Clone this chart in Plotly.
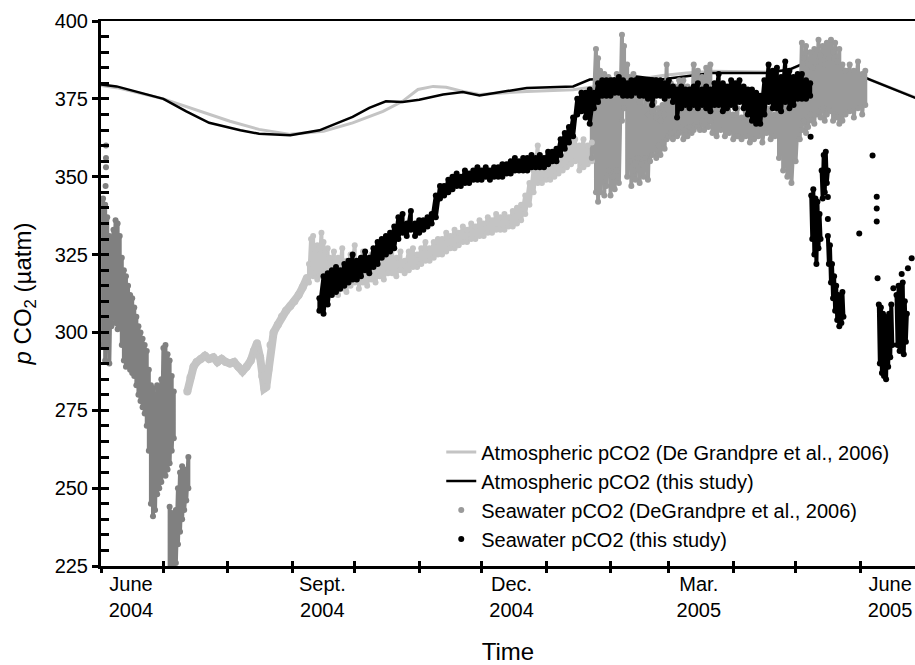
import pandas as pd
import plotly.graph_objects as go

START = pd.Timestamp("2004-06-01")
X_END_DAY = 391.4

# ---------------- atmospheric pCO2 (days since 1 June 2004) ----------------
atm_dg_days = [0, 7.5, 30, 42.8, 62, 76, 91, 107, 121, 135.6, 145, 152.4, 159.7, 166,
               174, 182, 204.7, 227, 238, 260, 270, 281.6, 294, 320, 331, 341, 358.5, 369.7, 392]
atm_dg_vals = [379.3, 378.6, 375.0, 372.1, 367.8, 365.2, 363.6, 364.6, 367.3, 371.0, 374.2,
               378.0, 379.0, 378.7, 377.4, 376.4, 377.4, 377.9, 379.0, 381.5, 382.5, 383.3,
               383.9, 383.6, 384.4, 387.0, 384.4, 381.2, 375.3]

atm_this_days = [0, 7.5, 30, 41, 52, 67, 76, 91, 105, 121, 129, 137, 145, 153, 164.5, 174,
                 182, 204.7, 227, 235, 249.5, 257.5, 269, 294, 320, 331, 341, 358.5, 369.7, 392]
atm_this_vals = [379.6, 379.0, 375.0, 371.0, 367.3, 364.9, 363.8, 363.3, 364.9, 369.2, 372.1,
                 374.2, 374.0, 374.7, 376.4, 377.2, 376.1, 378.5, 379.0, 381.2, 381.7, 382.2,
                 381.2, 383.3, 383.3, 384.4, 387.3, 384.4, 381.2, 375.2]

# ---------------- seawater pCO2, DeGrandpre et al. (2006) ----------------
# June 2004: daily upper / lower envelope of the record
dg_jun_days = [1, 2, 3, 4, 5, 6, 7, 8, 9, 10, 11, 12, 13, 14, 15, 16, 17, 18, 19, 20,
               21, 22, 23, 24, 25, 26, 27, 28, 29, 30, 31, 32, 33, 34, 35]
dg_jun_upper = [343, 341, 337, 331, 328, 333, 336, 335, 331, 324, 320, 318, 315, 312, 311, 308,
                305, 302, 300, 298, 296, 294, 288, 283, 282, 280, 283, 282, 285, 295, 296, 293,
                291, 286, 281]
dg_jun_lower = [296, 291, 300, 290, 302, 305, 303, 301, 302, 296, 291, 289, 290, 288, 287, 286,
                283, 280, 278, 276, 274, 270, 262, 245, 241, 243, 248, 250, 252, 255, 254, 256,
                258, 262, 266]
# early July 2004 low-pCO2 episode
dg_jul_days = [33, 34, 35, 36, 37, 38, 39, 40, 41, 42]
dg_jul_upper = [244, 242, 240, 243, 250, 255, 257, 256, 252, 260]
dg_jul_lower = [224, 224, 224, 226, 232, 236, 240, 243, 246, 250]
# isolated high readings at the start of the record
dg_start_days = [2.4, 2.4, 2.4, 2.2]
dg_start_vals = [360, 356, 353, 347]

# July - Sept. 2004: smooth part of the record
dg_summer_days = [41.5, 43, 44.5, 46, 48, 50, 52, 54, 56, 58, 60, 62, 64, 66, 68, 70, 72, 73.5,
                  75, 76.5, 77.5, 78.5, 79.5, 80.5, 81.5, 83, 85, 87, 89, 91, 93, 95, 97, 99]
dg_summer_vals = [281, 285.5, 289, 290.5, 291.5, 292.5, 291.5, 292, 290.5, 291.5, 290.5, 290,
                  290.5, 289, 287.5, 289, 291, 294, 296.5, 292, 286, 282, 282.5, 288, 296, 300,
                  302.5, 305, 307, 308.5, 310, 312, 314.5, 317.5]

# Sept. 2004 - Jan. 2005
dg_fall_days = [100, 101, 102, 103, 104, 105, 106, 107, 108, 109,
                110, 112, 114, 116, 118, 120, 122, 124, 126, 128,
                130, 132, 134, 136, 138, 140, 142, 144, 146, 148,
                150, 152, 154, 156, 158, 160, 162, 164, 166, 168,
                170, 172, 174, 176, 178, 180, 182, 184, 186, 188,
                190, 192, 194, 196, 198, 200, 202, 204, 206, 208,
                210, 212, 214, 216, 218, 220, 222, 224, 226, 228,
                230, 232, 234, 236]
dg_fall_upper = [322, 330, 331, 326, 328, 327, 332, 329, 326, 327,
                 324, 326, 324, 327, 323, 325, 328, 323, 326, 322,
                 325, 323, 326, 324, 325, 328, 324, 326, 323, 326,
                 327, 325, 327, 329, 327, 329, 330, 330, 332, 331,
                 333, 332, 334, 333, 335, 334, 336, 335, 337, 336,
                 338, 337, 338, 337, 339, 340, 341, 344, 348, 352,
                 360, 356, 352, 354, 356, 357, 356, 359, 361, 362,
                 360, 362, 360, 361]
dg_fall_lower = [316, 319, 318, 319, 317, 318, 320, 319, 318, 317,
                 316, 314, 312, 314, 313, 315, 316, 314, 316, 315,
                 317, 316, 318, 317, 319, 319, 318, 320, 319, 320,
                 321, 321, 322, 323, 323, 324, 325, 325, 326, 327,
                 327, 328, 329, 329, 330, 330, 331, 331, 332, 332,
                 333, 333, 333, 334, 334, 335, 336, 338, 341, 345,
                 348, 348, 349, 349, 350, 351, 352, 353, 354, 355,
                 352, 353, 354, 355]

# Jan. - June 2005
dg_spring_days = [236, 238, 239, 240, 241, 242, 243, 244, 245, 246,
                  247, 248, 249, 250.5, 251.5, 253, 254, 255, 256, 257,
                  258, 259, 260, 261, 262, 263, 264, 265, 266, 267,
                  268, 269, 270, 271, 272, 273, 274, 275, 276, 277,
                  278, 279, 280, 281, 282, 283, 284, 285, 286, 287,
                  288, 289, 290, 291, 292, 293, 294, 296, 298, 300,
                  302, 304, 306, 308, 310, 312, 314, 316, 318, 320,
                  322, 324, 326, 328, 330, 332, 334, 336, 337, 338,
                  339, 340, 341, 342, 343, 344, 345, 346, 347, 348,
                  349, 350, 351, 352, 353, 354, 355, 356.5, 358, 360,
                  362, 364, 366, 367.5]
dg_spring_upper = [372, 391, 388, 384, 380, 383, 378, 382, 376, 381,
                   378, 383, 377, 395.6, 392, 386, 382, 378, 383, 376,
                   380, 374, 377, 372, 375, 370, 374, 371, 374, 369,
                   372, 368, 373, 370, 386, 378, 380, 376, 379, 374,
                   381, 377, 381, 376, 379, 375, 378, 386, 380, 384,
                   377, 382, 378, 385, 379, 386, 374, 372, 374, 371,
                   373, 370, 372, 369, 371, 370, 376, 372, 375, 372,
                   372, 370, 376, 374, 376, 372, 375, 382, 393, 388,
                   392, 386, 390, 385, 391, 387, 394, 389, 392, 386,
                   393, 388, 394, 390, 393, 387, 391, 386, 384, 386,
                   384, 387, 383, 384]
dg_spring_lower = [356, 345, 342, 345, 350, 344, 347, 352, 344, 350,
                   346, 352, 348, 368, 372, 350, 355, 347, 352, 349,
                   356, 348, 354, 350, 356, 349, 355, 357, 359, 356,
                   360, 357, 361, 359, 362, 363, 364, 362, 365, 363,
                   364, 366, 362, 365, 363, 366, 364, 365, 367, 366,
                   365, 368, 365, 367, 366, 368, 364, 363, 365, 363,
                   364, 362, 363, 362, 363, 361, 362, 363, 361, 364,
                   362, 363, 356, 352, 350, 348, 355, 362, 365, 368,
                   364, 366, 370, 368, 367, 370, 371, 369, 372, 368,
                   370, 372, 371, 368, 370, 369, 367, 368, 370, 371,
                   369, 372, 370, 373]

# ---------------- seawater pCO2, this study ----------------
sw_days = [105, 107, 109, 111, 113, 115, 117, 119, 121, 123,
           125, 127, 129, 131, 133, 135, 137, 139, 141, 143,
           145, 147, 149, 151, 153, 155, 157, 159, 161, 163,
           165, 167, 169, 171, 173, 175, 177, 179, 181, 183,
           185, 187, 189, 191, 193, 195, 197, 199, 201, 203,
           205, 207, 209, 211, 213, 215, 217, 219, 221, 223,
           225, 227, 229, 231, 233, 235, 237, 239, 241, 243,
           245, 247, 249, 251, 253, 255, 257, 259, 261, 263,
           265, 267, 269, 271, 273, 275, 277, 279, 281, 283,
           285, 287, 289, 291, 293, 295, 297, 299, 301, 303,
           305, 307, 309, 311, 313, 315, 317, 319, 321, 323,
           325, 327, 329, 331, 333, 335, 337, 339, 341]
sw_upper = [311, 318, 319, 320, 321, 320, 322, 323, 325, 323,
            324, 326, 324, 327, 329, 330, 331, 332, 334, 337,
            338, 335, 339, 335, 336, 336, 337, 338, 344, 347,
            347, 349, 350, 351, 350, 352, 351, 352, 353, 352,
            353, 352, 353, 353, 354, 354, 355, 356, 355, 356,
            356, 357, 356, 357, 356, 358, 358, 359, 362, 364,
            366, 369, 375, 377, 377, 378, 377, 380, 381, 381,
            381, 381, 382, 381, 380, 381, 381, 381, 381, 381,
            381, 381, 381, 380, 381, 379, 378, 379, 378, 378,
            379, 380, 378, 379, 378, 380, 383, 380, 379, 381,
            380, 381, 379, 378, 378, 377, 376, 381, 386, 384,
            385, 382, 387, 384, 382, 383, 383, 381, 380]
sw_lower = [307, 306, 309, 312, 313, 314, 315, 316, 317, 317,
            318, 320, 319, 321, 322, 324, 325, 326, 327, 330,
            332, 331, 333, 331, 332, 333, 334, 335, 337, 343,
            344, 345, 346, 347, 347, 348, 348, 349, 349, 349,
            350, 349, 350, 350, 350, 351, 351, 352, 352, 352,
            352, 353, 353, 353, 353, 354, 355, 355, 357, 359,
            361, 363, 370, 371, 369, 367, 372, 374, 376, 376,
            376, 377, 377, 376, 376, 376, 377, 376, 376, 375,
            373, 376, 376, 375, 376, 374, 369, 372, 373, 372,
            373, 372, 373, 372, 371, 373, 373, 371, 372, 373,
            372, 374, 372, 370, 368, 367, 367, 370, 374, 372,
            372, 371, 374, 372, 373, 375, 375, 375, 376]

# spring 2005 bursts (None separates the bursts)
sw_burst_days = [341.5, 342, 342.5, 343, 343.5, 344, 344.5, 345, 345.5, 346, None,
                 346.5, 347, 347.5, 348, 348.5, 349, 349.5, None,
                 349.5, 350, 350.5, 351, 351.5, 352, 352.5, 353, 353.5, 354, 354.5, 355,
                 355.5, 356, 356.5, 357, None,
                 374, 374.5, 375, 375.5, 376, 376.5, 377, 377.5, 378, 378.5, 379, 379.5,
                 380, 380.5, None,
                 382.5, 383, 383.5, 384, 384.5, 385, 385.5, 386, 386.5, 387, 387.5]
sw_burst_vals = [344, 330, 346, 325, 343, 322, 342, 327, 338, 330, None,
                 352, 343, 357, 345, 358, 348, 352, None,
                 331, 322, 328, 316, 322, 311, 318, 307, 315, 304, 312, 302,
                 310, 303, 313, 305, None,
                 309, 290, 308, 287, 306, 286, 305, 285, 304, 289, 306, 292,
                 309, 296, None,
                 312, 296, 315, 294, 313, 298, 316, 293, 310, 297, 306]
sw_single_days = [341.2, 349.5, 349.5, 364.6, 371, 373, 373, 373, 373.4, 381, 385, 388, 389.8]
sw_single_vals = [362.8, 343.5, 336.4, 331.8, 356.8, 343.6, 339.8, 335.6, 317.4, 314.2,
                  318.8, 320.6, 323.8]

# ---------------- axis labels ----------------
quarter_ticks = ["2004-06-01", "2004-09-01", "2004-12-01", "2005-03-01", "2005-06-01"]
quarter_text = ["June<br>2004", "Sept.<br>2004", "Dec.<br>2004", "Mar.<br>2005", "June<br>2005"]

LEG_DG_ATM = "Atmospheric pCO2 (De Grandpre et al., 2006)"
LEG_THIS_ATM = "Atmospheric pCO2 (this study)"
LEG_DG_SW = "Seawater pCO2 (DeGrandpre et al., 2006)"
LEG_THIS_SW = "Seawater pCO2 (this study)"

C_DARK = "#808080"
C_LIGHT = "#c4c4c4"
C_MID = "#9a9a9a"
C_ATM_DG = "#c4c4c4"
FONT = "Arial, 'Liberation Sans', sans-serif"


def to_dates(days):
    return [None if d is None else START + pd.Timedelta(days=d) for d in days]


def envelope(days, upper, lower):
    """Walk each day's upper and lower reading so the band is traced as a stripe."""
    xs, ys = [], []
    for d, hi, lo in zip(days, upper, lower):
        xs += [d, d]
        ys += [hi, lo]
    return to_dates(xs), ys


fig = go.Figure()

# atmospheric records
fig.add_trace(go.Scatter(x=to_dates(atm_dg_days), y=atm_dg_vals, mode="lines",
                         line=dict(color=C_ATM_DG, width=3), name=LEG_DG_ATM,
                         legendgroup="g1"))
fig.add_trace(go.Scatter(x=to_dates(atm_this_days), y=atm_this_vals, mode="lines",
                         line=dict(color="black", width=2.5), name=LEG_THIS_ATM,
                         legendgroup="g2"))

# DeGrandpre seawater record
grey_parts = [
    (envelope(dg_jun_days, dg_jun_upper, dg_jun_lower), C_DARK, 4, 6),
    (envelope(dg_jul_days, dg_jul_upper, dg_jul_lower), C_DARK, 4, 6),
    ((to_dates(dg_summer_days), dg_summer_vals), C_LIGHT, 8, 8),
    (envelope(dg_fall_days, dg_fall_upper, dg_fall_lower), C_LIGHT, 4, 6),
    (envelope(dg_spring_days, dg_spring_upper, dg_spring_lower), C_MID, 4, 6),
]
for (xs, ys), col, lw, ms in grey_parts:
    fig.add_trace(go.Scatter(x=xs, y=ys, mode="lines", line=dict(color=col, width=lw),
                             showlegend=False, legendgroup="g3", hoverinfo="skip"))
for i, ((xs, ys), col, lw, ms) in enumerate(grey_parts):
    fig.add_trace(go.Scatter(x=xs, y=ys, mode="markers",
                             marker=dict(color=col, size=ms, line=dict(width=0)),
                             name=LEG_DG_SW, legendgroup="g3", showlegend=(i == 4)))
fig.add_trace(go.Scatter(x=to_dates(dg_start_days), y=dg_start_vals, mode="markers",
                         marker=dict(color=C_DARK, size=6), showlegend=False,
                         legendgroup="g3"))

# this study's seawater record
sx, sy = envelope(sw_days, sw_upper, sw_lower)
fig.add_trace(go.Scatter(x=sx, y=sy, mode="lines", line=dict(color="black", width=4),
                         showlegend=False, legendgroup="g4", hoverinfo="skip"))
fig.add_trace(go.Scatter(x=to_dates(sw_burst_days), y=sw_burst_vals, mode="lines",
                         line=dict(color="black", width=4), showlegend=False,
                         legendgroup="g4", hoverinfo="skip"))
fig.add_trace(go.Scatter(x=sx, y=sy, mode="markers", marker=dict(color="black", size=6),
                         name=LEG_THIS_SW, legendgroup="g4"))
fig.add_trace(go.Scatter(x=to_dates(sw_burst_days), y=sw_burst_vals, mode="markers",
                         marker=dict(color="black", size=6), showlegend=False,
                         legendgroup="g4"))
fig.add_trace(go.Scatter(x=to_dates(sw_single_days), y=sw_single_vals, mode="markers",
                         marker=dict(color="black", size=6), showlegend=False,
                         legendgroup="g4"))

# empty traces so the tick-only overlay axes get drawn
for xa, ya in [("x2", "y"), ("x3", "y"), ("x4", "y"), ("x", "y2")]:
    fig.add_trace(go.Scatter(x=[None], y=[None], xaxis=xa, yaxis=ya, mode="markers",
                             showlegend=False, hoverinfo="skip"))

x_range = [START, START + pd.Timedelta(days=X_END_DAY)]
month_axis = dict(type="date", range=x_range, overlaying="x", anchor="y", side="bottom",
                  tickmode="linear", tick0="2004-06-01", dtick="M1", tickwidth=2.5,
                  tickcolor="black", ticklen=6, showticklabels=False, showgrid=False,
                  showline=False, zeroline=False)

fig.update_layout(
    width=915, height=665, autosize=False,
    margin=dict(l=101, r=0, t=21, b=97),
    plot_bgcolor="white", paper_bgcolor="white",
    font=dict(family=FONT, color="black", size=20),
    showlegend=True,
    legend=dict(x=0.418, y=0.245, xanchor="left", yanchor="top",
                bgcolor="rgba(0,0,0,0)", borderwidth=0,
                font=dict(size=20, family=FONT, color="black"),
                traceorder="grouped", tracegroupgap=0, itemwidth=30),
    xaxis=dict(type="date", range=x_range, tickmode="array", tickvals=quarter_ticks,
               ticktext=quarter_text, ticks="", ticklabelshift=30, ticklabelstandoff=-2,
               tickfont=dict(size=20), showline=True, linewidth=3, linecolor="black",
               showgrid=False, zeroline=False,
               title=dict(text="Time", font=dict(size=24), standoff=27)),
    xaxis2=dict(month_axis, ticks="outside"),
    xaxis3=dict(month_axis, ticks="inside", ticklen=5),
    xaxis4=dict(type="date", range=x_range, overlaying="x", anchor="y", side="top",
                showline=True, linewidth=2, linecolor="black", ticks="",
                showticklabels=False, showgrid=False, zeroline=False),
    yaxis=dict(range=[225, 400], tickmode="linear", tick0=225, dtick=25, ticks="outside",
               ticklen=6, tickwidth=2.5, tickcolor="black", tickfont=dict(size=20),
               showline=True, linewidth=3, linecolor="black", showgrid=False,
               zeroline=False,
               title=dict(text="<i>p</i> CO<sub>2</sub> (µatm)", font=dict(size=24),
                          standoff=17)),
    yaxis2=dict(range=[225, 400], overlaying="y", anchor="x", side="left",
                tickmode="linear", tick0=225, dtick=5, ticks="inside", ticklen=8,
                tickwidth=2.5, tickcolor="black", showticklabels=False, showgrid=False,
                showline=False, zeroline=False),
)

fig.write_html("out.html")
